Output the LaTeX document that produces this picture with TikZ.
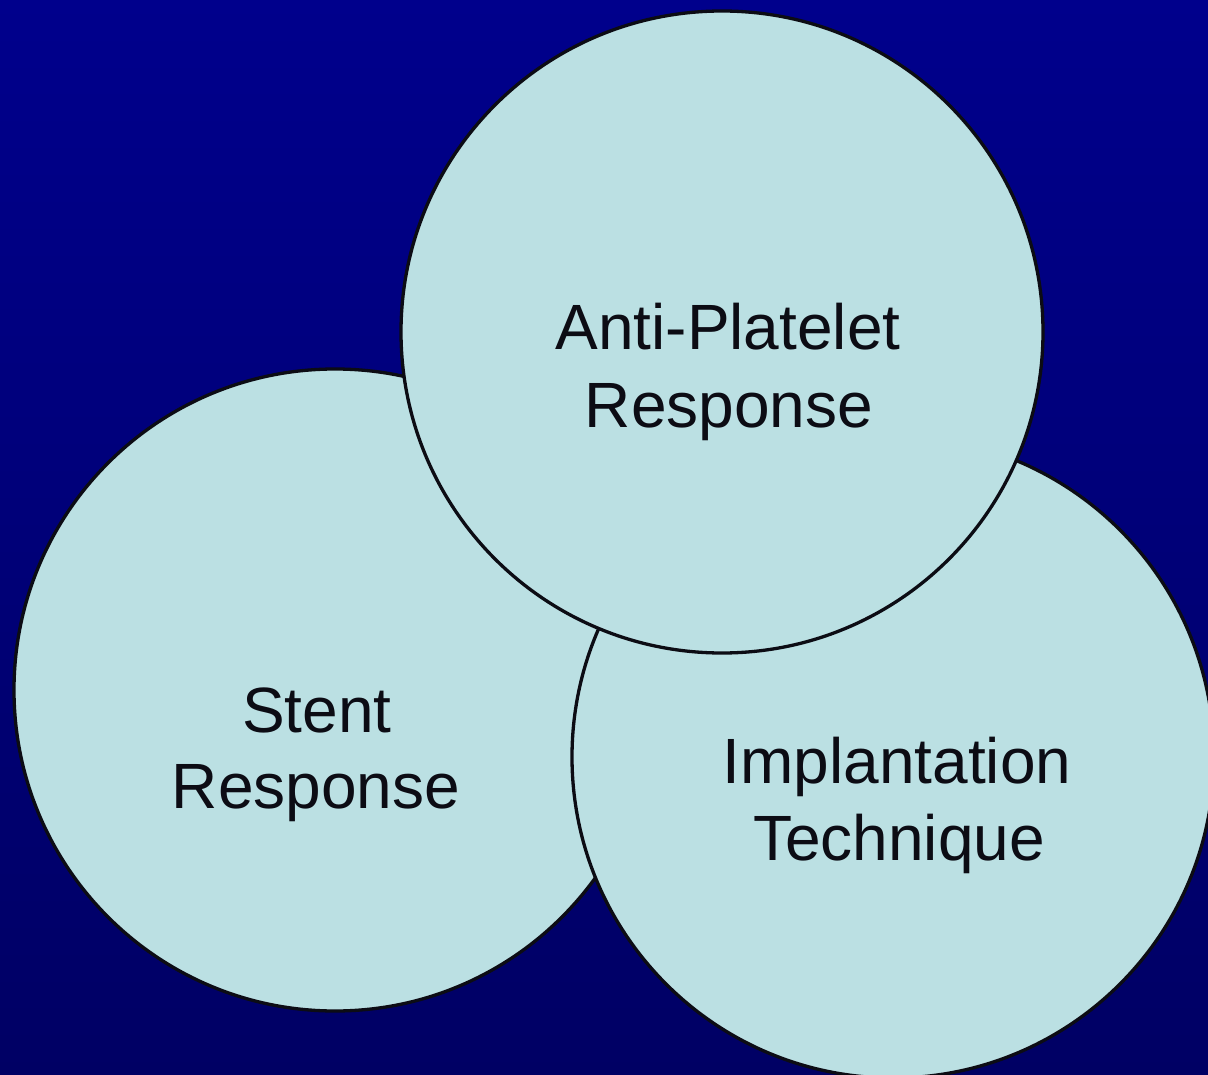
\documentclass[tikz,border=0pt]{standalone}
\usepackage{fontspec}
\setmainfont{Liberation Sans}
\definecolor{bgtop}{RGB}{0,0,140}
\definecolor{bgbot}{RGB}{0,0,100}
\definecolor{disc}{RGB}{187,224,227}
\definecolor{ink}{RGB}{12,12,20}
\begin{document}
\begin{tikzpicture}[x=1pt,y=-1pt,
  disc/.style={circle, draw=ink, line width=3.3pt, fill=disc, minimum size=642pt, inner sep=0pt},
  lbl/.style={anchor=base, text=ink, inner sep=0pt, font=\fontsize{64}{76}\selectfont}]
\shade[top color=bgtop, bottom color=bgbot] (0,0) rectangle (1208,1075);
\useasboundingbox (0,0) rectangle (1208,1075);
\node[disc] (stent) at (335,690) {};
\node[disc] (impl) at (893,757) {};
\node[disc] (anti) at (722,332) {};
\node[lbl] (antiA) at (728,350) {Anti-Platelet};
\node[lbl] (antiB) at (729,427) {Response};
\node[lbl] (stentA) at (317,732) {Stent};
\node[lbl] (stentB) at (316,808) {Response};
\node[lbl] (implA) at (897,783) {Implantation};
\node[lbl] (implB) at (899,860) {Technique};
\end{tikzpicture}
\end{document}
